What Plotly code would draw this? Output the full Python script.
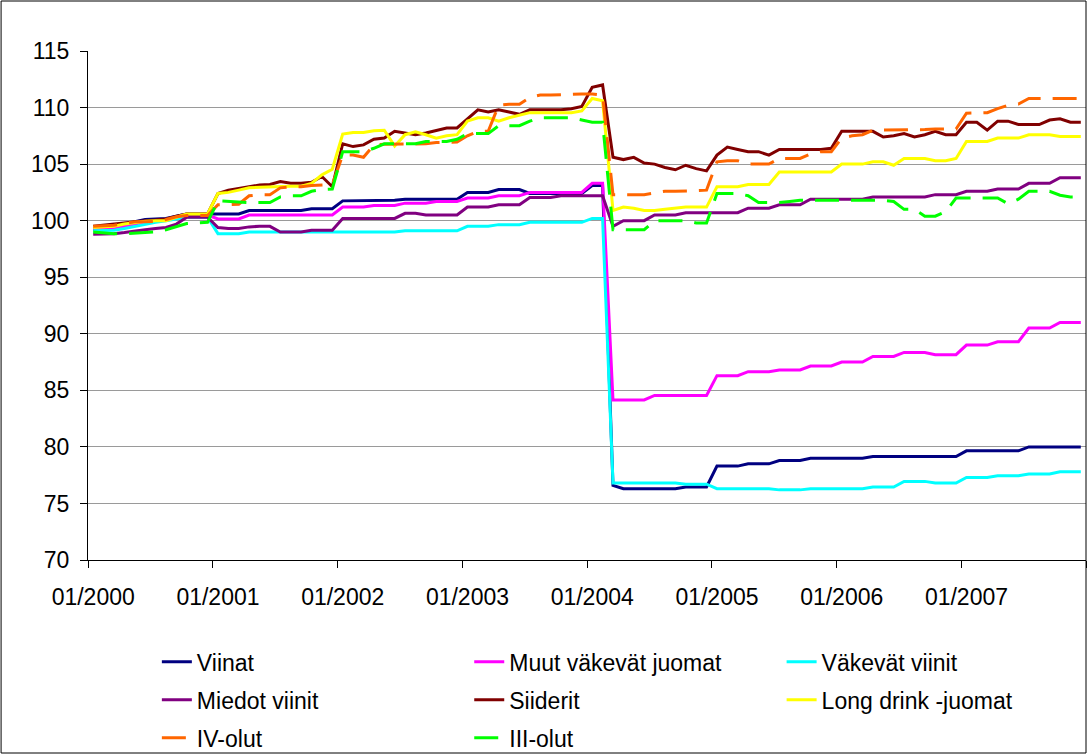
import plotly.graph_objects as go

# ---- data (monthly index, 01/2000 .. 12/2007) ----
years = [2000, 2001, 2002, 2003, 2004, 2005, 2006, 2007]
tick_labels = ["01/2000", "01/2001", "01/2002", "01/2003", "01/2004", "01/2005", "01/2006", "01/2007"]

viinat = [
    99.2, 99.3, 99.4, 99.6, 99.9, 100.1, 100.15, 100.2, 100.4, 100.6, 100.6, 100.6,
    100.6, 100.6, 100.6, 100.9, 100.9, 100.9, 100.9, 100.9, 100.9, 101.05, 101.05, 101.05,
    101.75, 101.75, 101.75, 101.8, 101.8, 101.8, 101.9, 101.9, 101.9, 101.9, 101.9, 101.9,
    102.5, 102.5, 102.5, 102.75, 102.75, 102.75, 102.4, 102.4, 102.4, 102.4, 102.4, 102.4,
    103.1, 103.1, 76.6, 76.3, 76.3, 76.3, 76.3, 76.3, 76.3, 76.45, 76.45, 76.45,
    78.3, 78.3, 78.3, 78.5, 78.5, 78.5, 78.8, 78.8, 78.8, 79.0, 79.0, 79.0,
    79.0, 79.0, 79.0, 79.15, 79.15, 79.15, 79.15, 79.15, 79.15, 79.15, 79.15, 79.15,
    79.65, 79.65, 79.65, 79.65, 79.65, 79.65, 80.0, 80.0, 80.0, 80.0, 80.0, 80.0,
]
muut_vakevat = [
    99.3, 99.3, 99.4, 99.5, 99.7, 99.9, 100.0, 100.1, 100.3, 100.5, 100.5, 100.5,
    100.15, 100.15, 100.15, 100.5, 100.5, 100.5, 100.5, 100.5, 100.5, 100.5, 100.5, 100.5,
    101.2, 101.2, 101.2, 101.35, 101.35, 101.35, 101.55, 101.55, 101.55, 101.7, 101.7, 101.7,
    102.0, 102.0, 102.0, 102.2, 102.2, 102.2, 102.5, 102.5, 102.5, 102.5, 102.5, 102.5,
    103.3, 103.3, 84.15, 84.15, 84.15, 84.15, 84.55, 84.55, 84.55, 84.55, 84.55, 84.55,
    86.3, 86.3, 86.3, 86.65, 86.65, 86.65, 86.8, 86.8, 86.8, 87.15, 87.15, 87.15,
    87.5, 87.5, 87.5, 88.0, 88.0, 88.0, 88.35, 88.35, 88.35, 88.15, 88.15, 88.15,
    89.0, 89.0, 89.0, 89.3, 89.3, 89.3, 90.5, 90.5, 90.5, 91.0, 91.0, 91.0,
]
vakevat_viinit = [
    99.1, 99.1, 99.15, 99.3, 99.5, 99.7, 99.85, 100.0, 100.15, 100.3, 100.3, 100.3,
    98.85, 98.85, 98.85, 99.0, 99.0, 99.0, 99.0, 99.0, 99.0, 99.0, 99.0, 99.0,
    99.0, 99.0, 99.0, 99.0, 99.0, 99.0, 99.1, 99.1, 99.1, 99.1, 99.1, 99.1,
    99.5, 99.5, 99.5, 99.65, 99.65, 99.65, 99.85, 99.85, 99.85, 99.85, 99.85, 99.85,
    100.2, 100.2, 76.8, 76.8, 76.8, 76.8, 76.8, 76.8, 76.8, 76.7, 76.7, 76.7,
    76.3, 76.3, 76.3, 76.3, 76.3, 76.3, 76.2, 76.2, 76.2, 76.3, 76.3, 76.3,
    76.3, 76.3, 76.3, 76.45, 76.45, 76.45, 76.95, 76.95, 76.95, 76.8, 76.8, 76.8,
    77.3, 77.3, 77.3, 77.45, 77.45, 77.45, 77.6, 77.6, 77.6, 77.8, 77.8, 77.8,
]
miedot_viinit = [
    98.8, 98.8, 98.85, 98.95, 99.1, 99.2, 99.3, 99.4, 99.7, 100.3, 100.3, 100.3,
    99.4, 99.3, 99.3, 99.45, 99.5, 99.5, 99.0, 99.0, 99.0, 99.15, 99.15, 99.15,
    100.2, 100.2, 100.2, 100.2, 100.2, 100.2, 100.65, 100.65, 100.5, 100.5, 100.5, 100.5,
    101.2, 101.2, 101.2, 101.4, 101.4, 101.4, 102.05, 102.05, 102.05, 102.2, 102.2, 102.2,
    102.2, 102.2, 99.5, 100.0, 100.0, 100.0, 100.5, 100.5, 100.5, 100.7, 100.7, 100.7,
    100.7, 100.7, 100.7, 101.1, 101.1, 101.1, 101.4, 101.4, 101.4, 101.9, 101.9, 101.9,
    101.9, 101.9, 101.9, 102.1, 102.1, 102.1, 102.1, 102.1, 102.1, 102.3, 102.3, 102.3,
    102.6, 102.6, 102.6, 102.8, 102.8, 102.8, 103.3, 103.3, 103.3, 103.8, 103.8, 103.8,
]
siiderit = [
    99.5, 99.6, 99.75, 99.85, 99.9, 100.0, 100.05, 100.15, 100.4, 100.6, 100.6, 100.6,
    102.4, 102.7, 102.85, 103.0, 103.15, 103.2, 103.45, 103.3, 103.3, 103.4, 103.9, 103.0,
    106.8, 106.55, 106.7, 107.2, 107.3, 107.9, 107.75, 107.6, 107.75, 108.0, 108.2, 108.2,
    109.0, 109.8, 109.6, 109.8, 109.6, 109.4, 109.8, 109.8, 109.8, 109.8, 109.9, 110.1,
    111.8, 112.0, 105.6, 105.4, 105.6, 105.1, 105.0, 104.7, 104.5, 104.9, 104.6, 104.4,
    105.8, 106.5, 106.3, 106.1, 106.1, 105.8, 106.3, 106.3, 106.3, 106.3, 106.3, 106.4,
    107.9, 107.9, 107.9, 107.9, 107.4, 107.5, 107.7, 107.4, 107.6, 107.9, 107.6, 107.6,
    108.7, 108.7, 108.0, 108.8, 108.8, 108.5, 108.5, 108.5, 108.9, 109.0, 108.7, 108.7,
]
long_drink = [
    99.4, 99.45, 99.5, 99.7, 99.85, 99.95, 100.0, 100.0, 100.3, 100.6, 100.6, 100.6,
    102.4, 102.5, 102.7, 102.9, 102.95, 103.0, 103.05, 103.05, 103.05, 103.3, 104.05, 104.55,
    107.65, 107.8, 107.8, 107.95, 108.0, 106.6, 107.6, 107.85, 107.6, 107.3, 107.5, 107.6,
    108.8, 109.1, 109.1, 108.8, 109.1, 109.3, 109.55, 109.55, 109.55, 109.55, 109.55, 109.7,
    110.8, 110.6, 100.9, 101.2, 101.1, 100.9, 100.9, 101.0, 101.1, 101.2, 101.2, 101.2,
    103.0, 103.0, 103.0, 103.2, 103.2, 103.2, 104.3, 104.3, 104.3, 104.3, 104.3, 104.3,
    105.0, 105.0, 105.0, 105.2, 105.2, 104.9, 105.5, 105.5, 105.5, 105.3, 105.3, 105.5,
    107.0, 107.0, 107.0, 107.3, 107.3, 107.3, 107.6, 107.6, 107.6, 107.45, 107.45, 107.45,
]
iv_olut = [
    99.5, 99.55, 99.6, 99.75, 99.9, 99.9, 99.95, 100.1, 100.35, 100.45, 100.45, 100.45,
    101.4, 101.4, 101.45, 102.2, 102.3, 102.3, 102.9, 103.0, 103.0, 103.1, 103.15, 103.2,
    105.8, 105.8, 105.6, 106.7, 106.75, 106.75, 106.75, 106.75, 106.8, 106.9, 106.95, 106.95,
    107.5, 107.9, 107.9, 110.2, 110.3, 110.3, 110.9, 111.1, 111.1, 111.15, 111.2, 111.2,
    111.2, 111.1, 102.3, 102.3, 102.3, 102.3, 102.45, 102.6, 102.6, 102.6, 102.65, 102.7,
    105.2, 105.3, 105.3, 105.0, 105.0, 105.0, 105.5, 105.5, 105.5, 105.9, 106.1, 106.1,
    107.3, 107.5, 107.6, 108.0, 108.0, 108.0, 108.0, 108.0, 108.05, 108.1, 108.1, 108.1,
    109.5, 109.5, 109.55, 109.9, 110.2, 110.3, 110.8, 110.8, 110.8, 110.8, 110.8, 110.8,
]
iii_olut = [
    99.0, 98.9, 98.85, 98.85, 98.9, 98.95, 99.0, 99.2, 99.5, 99.75, 99.8, 99.85,
    101.75, 101.7, 101.6, 101.6, 101.6, 101.6, 102.1, 102.2, 102.2, 102.6, 102.75, 102.8,
    106.1, 106.1, 106.1, 106.4, 106.8, 106.8, 106.8, 106.8, 107.0, 107.0, 107.0, 107.2,
    107.7, 107.7, 107.7, 108.4, 108.4, 108.4, 108.8, 109.1, 109.1, 109.1, 109.1, 108.9,
    108.7, 108.7, 99.2, 99.2, 99.2, 99.2, 100.0, 100.0, 100.0, 100.0, 99.8, 99.8,
    102.4, 102.4, 102.4, 102.2, 101.6, 101.6, 101.6, 101.7, 101.8, 101.8, 101.8, 101.8,
    101.8, 101.8, 101.8, 101.8, 101.8, 101.7, 101.0, 101.0, 100.4, 100.4, 100.8, 102.0,
    102.0, 102.0, 102.0, 102.0, 101.5, 101.9, 102.6, 102.6, 102.6, 102.25, 102.1, 102.1,
]

# ---- x positions: category centres, one category per month ----
n_months = len(viinat)
x_pos = [i + 0.5 for i in range(n_months)]
label_pos = [12 * k + 0.5 for k in range(len(tick_labels))]
boundary_pos = [12 * k for k in range(len(years) + 1)]

series = [
    ("Viinat", viinat, "#000080", "solid", "legend"),
    ("Muut väkevät juomat", muut_vakevat, "#FF00FF", "solid", "legend2"),
    ("Väkevät viinit", vakevat_viinit, "#00FFFF", "solid", "legend3"),
    ("Miedot viinit", miedot_viinit, "#800080", "solid", "legend"),
    ("Siiderit", siiderit, "#800000", "solid", "legend2"),
    ("Long drink -juomat", long_drink, "#FFFF00", "solid", "legend3"),
    ("IV-olut", iv_olut, "#FF6600", "24px,12px", "legend"),
    ("III-olut", iii_olut, "#00FF00", "24px,12px", "legend2"),
]

fig = go.Figure()
for name, vals, color, dash, leg in series:
    fig.add_trace(go.Scatter(
        x=x_pos, y=vals, mode="lines", name=name,
        line=dict(color=color, width=3, dash=dash),
        legend=leg, legendgroup=name,
    ))

FONT = "Liberation Sans, Arial, sans-serif"
FS = 23
leg_common = dict(
    orientation="v", yanchor="top", y=-0.158, xanchor="left",
    bgcolor="rgba(0,0,0,0)", borderwidth=0, tracegroupgap=5,
    font=dict(family=FONT, size=FS, color="black"), traceorder="grouped",
)

fig.update_layout(
    width=1092, height=755,
    margin=dict(l=88, r=6, t=51, b=195, autoexpand=False),
    paper_bgcolor="white", plot_bgcolor="white",
    font=dict(family=FONT, size=FS, color="black"),
    showlegend=True,
    legend=dict(x=0.069, **leg_common),
    legend2=dict(x=0.382, **leg_common),
    legend3=dict(x=0.695, **leg_common),
    xaxis=dict(
        range=[0, n_months], tickmode="array", tickvals=label_pos, ticktext=tick_labels,
        ticks="", showgrid=False, zeroline=False,
        showline=True, linecolor="black", linewidth=1,
        ticklabelstandoff=16,
        minor=dict(tickmode="array", tickvals=boundary_pos, ticks="outside",
                   ticklen=7, tickcolor="black", tickwidth=1, showgrid=False),
    ),
    yaxis=dict(
        range=[70, 115], tick0=70, dtick=5, showgrid=True, gridcolor="#9a9a9a", gridwidth=1,
        zeroline=False, showline=True, linecolor="black", linewidth=1,
        ticks="outside", ticklen=7, tickcolor="black", ticklabelstandoff=6,
    ),
    shapes=[dict(
        type="rect", xref="paper", yref="paper",
        x0=-87 / 999, x1=1.0, y0=-193 / 509, y1=559 / 509,
        line=dict(color="black", width=1), fillcolor="rgba(0,0,0,0)", layer="above",
    )],
)

fig.write_html(
    "out.html",
    config={"displayModeBar": False},
    post_script="document.body.style.margin='0';document.body.style.overflow='hidden';",
)
